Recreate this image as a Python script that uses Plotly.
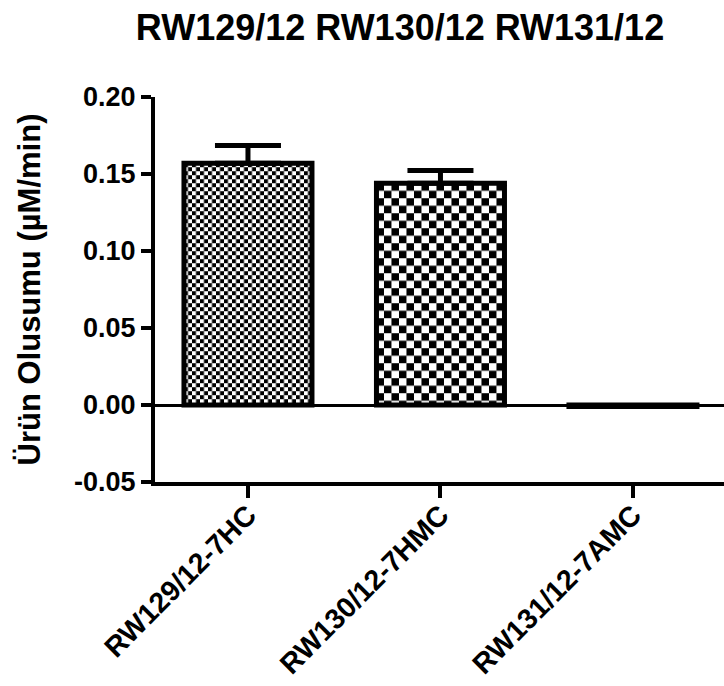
import base64
import plotly.graph_objects as go

# ---- data ----
categories = ["RW129/12-7HC", "RW130/12-7HMC", "RW131/12-7AMC"]
values = [0.157, 0.144, -0.001]
errors_up = [0.0115, 0.0082, 0.0]
checker_cell_px = [4, 7.5, 6]
title_text = "RW129/12 RW130/12 RW131/12"
y_title = "Ürün Olusumu (µM/min)"
y_ticks = [-0.05, 0.00, 0.05, 0.10, 0.15, 0.20]
y_tick_labels = ["-0.05", "0.00", "0.05", "0.10", "0.15", "0.20"]

# ---- layout constants ----
W, H = 724, 686
ML, MR, MT, MB = 155, 0, 97, 204
XR = [-0.483, 2.473]
YR = [-0.05, 0.20]
BAR_W = 0.665
FONT = "Liberation Sans, Arial, sans-serif"

plot_w = W - ML - MR
plot_h = H - MT - MB
px_x = plot_w / (XR[1] - XR[0])
px_y = plot_h / (YR[1] - YR[0])

xs = list(range(len(categories)))


def checker_uri(w, h, s):
    svg = (
        f'<svg xmlns="http://www.w3.org/2000/svg" width="{w:.1f}" height="{h:.1f}" '
        f'viewBox="0 0 {w:.1f} {h:.1f}" preserveAspectRatio="none">'
        f'<defs><pattern id="p" width="{2*s}" height="{2*s}" patternUnits="userSpaceOnUse">'
        f'<rect width="{s}" height="{s}" fill="#000"/>'
        f'<rect x="{s}" y="{s}" width="{s}" height="{s}" fill="#000"/></pattern></defs>'
        f'<rect width="{w:.1f}" height="{h:.1f}" fill="#fff"/>'
        f'<rect width="{w:.1f}" height="{h:.1f}" fill="url(#p)"/></svg>'
    )
    return "data:image/svg+xml;base64," + base64.b64encode(svg.encode()).decode()


fig = go.Figure()
fig.add_trace(go.Bar(
    x=xs, y=values, width=BAR_W,
    marker=dict(color="rgba(0,0,0,0)", line=dict(color="black", width=5)),
    error_y=dict(type="data", symmetric=False, array=errors_up,
                 arrayminus=[0] * len(values), color="black", thickness=5, width=33),
    showlegend=False,
))

images = []
for x, v, s in zip(xs, values, checker_cell_px):
    top = max(v, 0)
    hgt = abs(v)
    images.append(dict(
        source=checker_uri(BAR_W * px_x, hgt * px_y, s),
        xref="x", yref="y", x=x - BAR_W / 2, y=top,
        sizex=BAR_W, sizey=hgt, sizing="stretch",
        xanchor="left", yanchor="top", layer="below",
    ))

fig.update_layout(
    width=W, height=H,
    margin=dict(l=ML, r=MR, t=MT, b=MB, pad=0, autoexpand=False),
    paper_bgcolor="white", plot_bgcolor="white",
    images=images,
    font=dict(family=FONT, color="black", size=26, weight="bold"),
    title=dict(text=title_text, xref="container", x=400 / W, xanchor="center",
               yref="container", y=1 - 27 / H, yanchor="middle",
               font=dict(size=36, family=FONT, weight="bold", color="black")),
    xaxis=dict(range=XR, tickvals=xs, ticktext=categories, tickangle=-45,
               automargin=False, ticklabelstandoff=-11,
               showgrid=False, zeroline=False, showline=True, linecolor="black",
               linewidth=4, ticks="outside", ticklen=12, tickwidth=4, tickcolor="black",
               tickfont=dict(size=28.5, family=FONT, weight="bold")),
    yaxis=dict(range=YR, tickvals=y_ticks, ticktext=y_tick_labels, showgrid=False,
               automargin=False,
               zeroline=True, zerolinecolor="black", zerolinewidth=3,
               showline=True, linecolor="black", linewidth=4,
               ticks="outside", ticklen=10, tickwidth=4, tickcolor="black",
               tickfont=dict(size=27, family=FONT, weight="bold"),
               title=dict(text=y_title, standoff=25,
                          font=dict(size=31, family=FONT, weight="bold"))),
)

fig.write_html("out.html")
